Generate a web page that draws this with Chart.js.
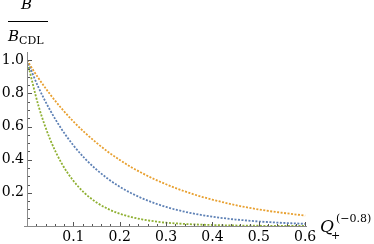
<!DOCTYPE html>
<html>
<head>
<meta charset="utf-8">
<script src="https://cdn.jsdelivr.net/npm/chart.js@4.4.1/dist/chart.umd.min.js"></script>
<style>
  html, body { margin: 0; padding: 0; background: #fff; }
  #wrap { position: relative; width: 374px; height: 244px; overflow: hidden; }
  canvas { position: absolute; left: 0; top: 0; }
  .lbl { position: absolute; font-family: "DejaVu Serif", "Liberation Serif", serif; color: #000; white-space: nowrap; line-height: 1; }
  .it { font-style: italic; }
</style>
</head>
<body>
<div id="wrap">
  <canvas id="c" width="374" height="244"></canvas>
  <div class="lbl it" style="left:21px; top:-3px; font-size:15px;">B</div>
  <div style="position:absolute; left:8px; top:21px; width:40px; height:1px; background:#000;"></div>
  <div class="lbl" style="left:8px; top:29px; font-size:15px;"><span class="it">B</span><span style="font-size:11px; position:relative; top:3px;">CDL</span></div>
  <div class="lbl it" style="left:320px; top:218px; font-size:17px;">Q</div>
  <div class="lbl" style="left:336px; top:213px; font-size:11px;">(−0.8)</div>
  <div class="lbl" style="left:331px; top:230px; font-size:11px;">+</div>
</div>
<script>
const qValues = [0, 0.025, 0.05, 0.075, 0.1, 0.125, 0.15, 0.175, 0.2, 0.225, 0.25, 0.275, 0.3, 0.325, 0.35, 0.375, 0.4, 0.425, 0.45, 0.475, 0.5, 0.525, 0.55, 0.575, 0.6];
const orangeSeries = [1.0, 0.891, 0.794, 0.708, 0.631, 0.563, 0.502, 0.447, 0.399, 0.355, 0.317, 0.282, 0.252, 0.224, 0.200, 0.178, 0.159, 0.142, 0.126, 0.112, 0.100, 0.089, 0.080, 0.071, 0.063];
const blueSeries = [1.0, 0.835, 0.698, 0.583, 0.487, 0.407, 0.340, 0.284, 0.237, 0.198, 0.165, 0.138, 0.115, 0.096, 0.080, 0.067, 0.056, 0.047, 0.039, 0.033, 0.027, 0.023, 0.019, 0.016, 0.013];
const greenSeries = [1.0, 0.723, 0.522, 0.377, 0.273, 0.197, 0.142, 0.103, 0.074, 0.054, 0.039, 0.028, 0.020, 0.015, 0.011, 0.008, 0.006, 0.004, 0.003, 0.002, 0.0015, 0.001, 0.001, 0.0005, 0.0004];
const xTickLabels = ["0.1", "0.2", "0.3", "0.4", "0.5", "0.6"];
const yTickLabels = ["0.2", "0.4", "0.6", "0.8", "1.0"];

function pts(ys) { return qValues.map((q, i) => ({ x: q, y: ys[i] })); }

function fmt(v, labels) {
  const s = v.toFixed(1);
  if (Math.abs(v - parseFloat(s)) > 1e-6) return '';
  return labels.includes(s) ? s : '';
}

const axesPlugin = {
  id: 'mmaAxes',
  afterDatasetsDraw(chart) {
    const ctx = chart.ctx, xs = chart.scales.x, ys = chart.scales.y;
    const x0 = xs.getPixelForValue(0), y0 = ys.getPixelForValue(0);
    const xEnd = xs.right, yTop = ys.top;
    ctx.save();
    ctx.strokeStyle = '#8a8a8a';
    ctx.lineWidth = 1;
    ctx.beginPath();
    ctx.moveTo(x0 - 3, Math.round(y0) + 0.5); ctx.lineTo(xEnd, Math.round(y0) + 0.5);
    ctx.moveTo(Math.round(x0) + 0.5, y0); ctx.lineTo(Math.round(x0) + 0.5, yTop);
    ctx.stroke();
    ctx.strokeStyle = '#555';
    ctx.beginPath();
    for (let i = 1; i <= 30; i++) {
      const v = i * 0.02;
      const px = Math.round(xs.getPixelForValue(v)) + 0.5;
      const len = (i % 5 === 0) ? 4 : 2;
      ctx.moveTo(px, Math.round(y0)); ctx.lineTo(px, Math.round(y0) - len);
    }
    for (let i = 1; i <= 20; i++) {
      const v = i * 0.05;
      const py = Math.round(ys.getPixelForValue(v)) + 0.5;
      const len = (i % 4 === 0) ? 4 : 2;
      ctx.moveTo(Math.round(x0) + 1, py); ctx.lineTo(Math.round(x0) + 1 + len, py);
    }
    ctx.stroke();
    ctx.restore();
  }
};

const tickFont = { family: '"DejaVu Serif", "Liberation Serif", serif', size: 14 };

new Chart(document.getElementById('c'), {
  type: 'line',
  data: {
    datasets: [
      { data: pts(orangeSeries), borderColor: '#E8A030', borderWidth: 1.8, borderDash: [2, 1.5], pointRadius: 0, cubicInterpolationMode: 'monotone', fill: false },
      { data: pts(blueSeries), borderColor: '#5E81B5', borderWidth: 1.8, borderDash: [2, 1.5], pointRadius: 0, cubicInterpolationMode: 'monotone', fill: false },
      { data: pts(greenSeries), borderColor: '#8FB032', borderWidth: 1.8, borderDash: [2, 1.5], pointRadius: 0, cubicInterpolationMode: 'monotone', fill: false }
    ]
  },
  options: {
    responsive: false,
    animation: false,
    devicePixelRatio: 1,
    layout: { padding: { top: 52, right: 67, left: 0, bottom: 0 } },
    plugins: { legend: { display: false }, tooltip: { enabled: false } },
    scales: {
      x: {
        type: 'linear', min: 0, max: 0.604,
        grid: { display: false, drawTicks: false },
        border: { display: false },
        ticks: { stepSize: 0.1, includeBounds: false, autoSkip: false, maxRotation: 0, padding: 3, color: '#000', font: tickFont,
                 callback: (v) => fmt(v, xTickLabels) },
        afterFit: (s) => { s.height = 18; }
      },
      y: {
        type: 'linear', min: 0, max: 1.05,
        grid: { display: false, drawTicks: false },
        border: { display: false },
        ticks: { stepSize: 0.2, includeBounds: false, autoSkip: false, padding: 3, color: '#000', font: tickFont,
                 callback: (v) => fmt(v, yTickLabels) },
        afterFit: (s) => { s.width = 27; }
      }
    }
  },
  plugins: [axesPlugin]
});
</script>
</body>
</html>
